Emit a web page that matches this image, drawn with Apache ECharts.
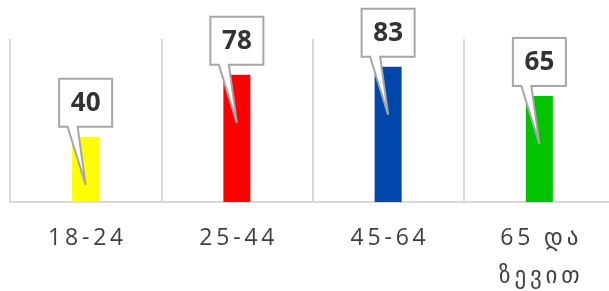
<!DOCTYPE html>
<html>
<head>
<meta charset="utf-8">
<script src="https://cdn.jsdelivr.net/npm/echarts@6/dist/echarts.min.js"></script>
<style>
html,body{margin:0;padding:0;background:#fff;}
#chart{width:609px;height:291px;}
</style>
</head>
<body>
<div id="chart"></div>
<script>
const categories = ['18-24', '25-44', '45-64', '65 და\nზევით'];
const values = [40, 78, 83, 65];
const barColors = ['#ffff00', '#ff0000', '#0047ab', '#00c400'];

const chart = echarts.init(document.getElementById('chart'), null, {renderer: 'canvas'});

function spaced(s) {
  return s.split('\n').map(l => l.split('').join('\u2009')).join('\n');
}

const option = {
  animation: false,
  grid: {left: 10, width: 605, top: 39, bottom: 89, containLabel: false, outerBoundsMode: 'none'},
  xAxis: {
    type: 'category',
    data: categories,
    boundaryGap: true,
    axisLine: {show: true, lineStyle: {color: '#d9d9d9', width: 2}},
    axisTick: {show: false},
    splitLine: {show: true, lineStyle: {color: '#d9d9d9', width: 2}},
    axisLabel: {
      interval: 0,
      margin: 17,
      fontSize: 23,
      lineHeight: 38,
      color: '#404040',
      fontFamily: '"Open Sans", "DejaVu Sans", sans-serif',
      formatter: spaced
    }
  },
  yAxis: {
    type: 'value',
    min: 0,
    max: 100,
    show: false,
    splitLine: {show: false}
  },
  series: [
    {
      type: 'bar',
      barWidth: 27,
      data: values.map((v, i) => ({value: v, itemStyle: {color: barColors[i]}})),
      z: 2
    },
    {
      type: 'custom',
      z: 5,
      data: values.map((v, i) => [i, v]),
      renderItem: function (params, api) {
        const v = api.value(1);
        const p = api.coord([api.value(0), v]);
        const cx = p[0], top = p[1];
        const L = cx - 26.5, R = cx + 26.5, T = top - 58, B = top - 10;
        return {
          type: 'group',
          children: [
            {
              type: 'polygon',
              shape: {points: [[L, T], [R, T], [R, B], [cx - 8, B], [cx, top + 48], [cx - 18, B], [L, B]]},
              style: {fill: '#ffffff', stroke: '#a6a6a6', lineWidth: 2}
            },
            {
              type: 'text',
              style: {
                text: String(v),
                x: cx,
                y: (T + B) / 2 + 1,
                align: 'center',
                verticalAlign: 'middle',
                font: 'bold 26px "Open Sans", sans-serif',
                fill: '#333333'
              }
            }
          ]
        };
      }
    }
  ]
};
chart.setOption(option);
</script>
</body>
</html>
